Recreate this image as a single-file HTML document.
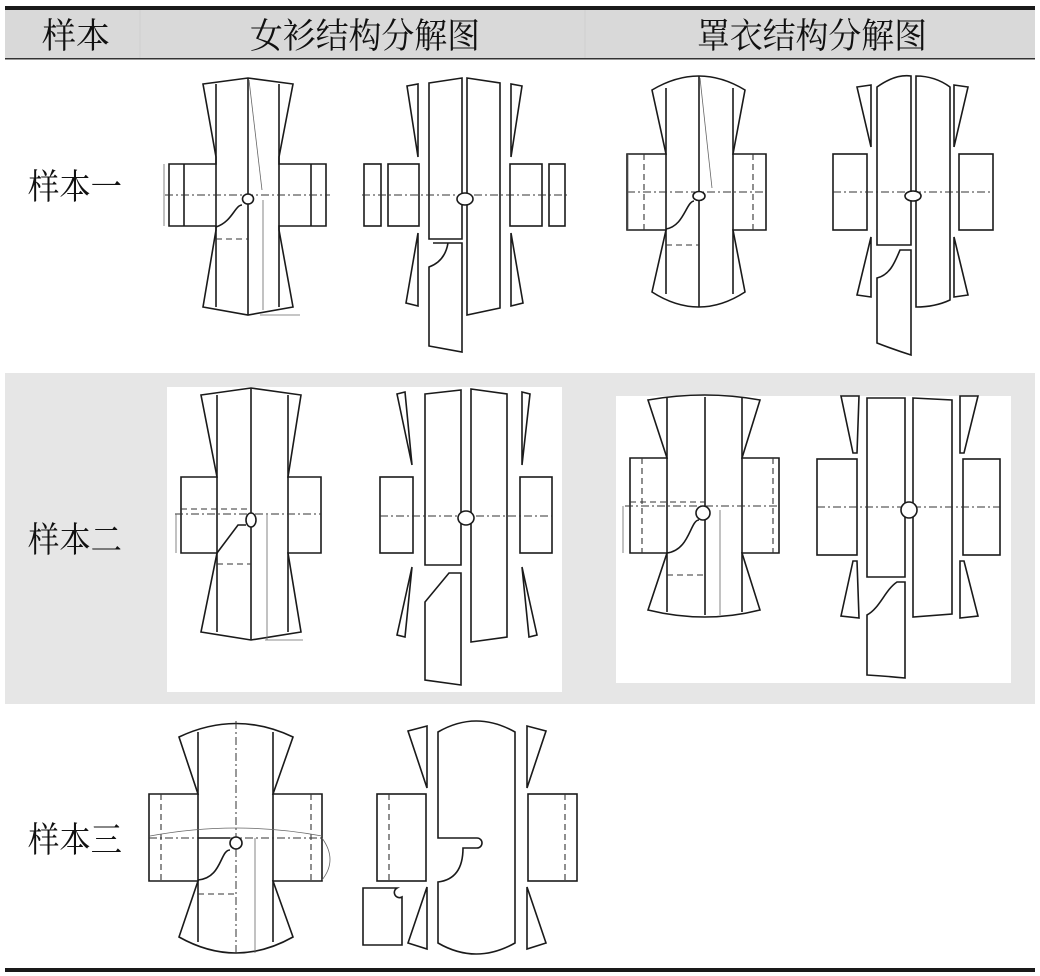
<!DOCTYPE html>
<html><head><meta charset="utf-8"><style>
html,body{margin:0;padding:0;background:#fff;}
svg{display:block;}
.t{font-family:"Liberation Serif","Noto Serif CJK SC",serif;font-size:35px;fill:#111;}
.s{fill:none;stroke:#1a1a1a;stroke-width:1.6;}
.f{fill:#fff;stroke:#1a1a1a;stroke-width:1.6;}
.d{fill:none;stroke:#333;stroke-width:1;stroke-dasharray:8,3,2,3;}
.ds{fill:none;stroke:#333;stroke-width:1.1;stroke-dasharray:6,4;}
.g{fill:none;stroke:#666;stroke-width:0.8;}
</style></head><body>
<svg width="1040" height="976" viewBox="0 0 1040 976" xmlns="http://www.w3.org/2000/svg">
<!-- header -->
<rect x="5" y="10" width="1030" height="48" fill="#d9d9d9"/>
<rect x="5" y="6" width="1030" height="4" fill="#1a1a1a"/>
<rect x="5" y="58" width="1030" height="1.5" fill="#333"/>
<line x1="140" y1="10" x2="140" y2="58" stroke="#cfcfcf"/>
<line x1="585" y1="10" x2="585" y2="58" stroke="#cfcfcf"/>
<text class="t" x="42" y="48" textLength="68" lengthAdjust="spacingAndGlyphs">样本</text>
<text class="t" x="250" y="48" textLength="230" lengthAdjust="spacingAndGlyphs">女衫结构分解图</text>
<text class="t" x="697" y="48" textLength="230" lengthAdjust="spacingAndGlyphs">罩衣结构分解图</text>
<!-- row2 gray -->
<rect x="5" y="373" width="1030" height="331" fill="#e6e6e6"/>
<rect x="167" y="387" width="395" height="305" fill="#fff"/>
<rect x="616" y="396" width="395" height="287" fill="#fff"/>
<!-- bottom line -->
<rect x="5" y="968" width="1030" height="4" fill="#1a1a1a"/>
<!-- labels -->
<text class="t" x="28" y="199" textLength="94" lengthAdjust="spacingAndGlyphs">样本一</text>
<text class="t" x="28" y="552" textLength="94" lengthAdjust="spacingAndGlyphs">样本二</text>
<text class="t" x="28" y="852" textLength="94" lengthAdjust="spacingAndGlyphs">样本三</text>

<!-- ROW1 LEFT women -->
<polygon class="f" points="203,84 248,78 293,84 279,157 279,164 326,164 326,226 279,226 279,230 293,307 248,315 203,307 216,230 216,226 169,226 169,164 216,164 216,157"/>
<line class="s" x1="216" y1="84" x2="216" y2="307"/><line class="s" x1="279" y1="84" x2="279" y2="307"/>
<line class="s" x1="248" y1="78" x2="248" y2="315"/>
<line class="s" x1="184" y1="164" x2="184" y2="226"/><line class="s" x1="311" y1="164" x2="311" y2="226"/>
<line class="d" x1="165" y1="195" x2="330" y2="195"/>
<path class="s" d="M216,227 C232,222 235,205 242,205"/>
<line class="ds" x1="216" y1="239" x2="248" y2="239"/>
<ellipse class="f" cx="248" cy="199" rx="5.5" ry="5"/>
<line class="g" x1="249" y1="80" x2="262" y2="190"/><line class="g" x1="263" y1="200" x2="263" y2="310"/>
<line class="g" x1="164" y1="164" x2="164" y2="226"/><line class="g" x1="260" y1="315" x2="300" y2="315"/>
<!-- ROW1 RIGHT women -->
<polygon class="f" points="407,86 418,84 418,157"/>
<polygon class="f" points="418,233 406,303 418,306"/>
<polygon class="f" points="522,86 511,84 511,157"/>
<polygon class="f" points="511,233 523,303 511,306"/>
<rect class="f" x="364" y="164" width="17" height="62"/><rect class="f" x="388" y="164" width="31" height="62"/>
<rect class="f" x="510" y="164" width="32" height="62"/><rect class="f" x="549" y="164" width="16" height="62"/>
<polygon class="f" points="429,83 462,78 462,239 429,239"/>
<path class="f" d="M433,243 L462,243 L462,352 L429,346 L429,267 C440,263 446,255 448,243 Z"/>
<polygon class="f" points="467,78 500,83 500,308 467,315"/>
<line class="d" x1="362" y1="195" x2="567" y2="195"/>
<ellipse class="f" cx="465" cy="199" rx="8" ry="6"/>

<!-- ROW1 LEFT overcoat -->
<path class="f" d="M652,90 Q699,62 745,90 L733,154 L766,154 L766,230 L733,230 L745,292 Q699,322 652,292 L666,230 L627,230 L627,154 L666,154 Z"/>
<line class="s" x1="666" y1="88" x2="666" y2="294"/><line class="s" x1="733" y1="88" x2="733" y2="294"/>
<line class="s" x1="699" y1="76" x2="699" y2="307"/>
<line class="ds" x1="644" y1="154" x2="644" y2="230"/><line class="ds" x1="753" y1="154" x2="753" y2="230"/>
<line class="d" x1="627" y1="192" x2="766" y2="192"/>
<path class="s" d="M666,229 C684,226 686,202 694,201"/>
<line class="ds" x1="666" y1="245" x2="699" y2="245"/>
<ellipse class="f" cx="699" cy="196" rx="6" ry="4.5"/>
<line class="g" x1="700" y1="78" x2="712" y2="188"/><line class="g" x1="628" y1="154" x2="628" y2="230"/>
<!-- ROW1 RIGHT overcoat -->
<polygon class="f" points="857,87 871,85 871,147"/>
<polygon class="f" points="871,237 857,295 871,297"/>
<polygon class="f" points="968,87 954,85 954,147"/>
<polygon class="f" points="954,237 968,295 954,297"/>
<rect class="f" x="833" y="154" width="34" height="76"/><rect class="f" x="959" y="154" width="34" height="76"/>
<path class="f" d="M877,87 Q895,74 911,76 L911,245 L877,245 Z"/>
<path class="f" d="M900,250 L911,250 L911,355 Q895,350 877,343 L877,278 C890,275 895,262 900,250 Z"/>
<path class="f" d="M916,76 Q935,76 950,87 L950,300 Q935,307 916,307 Z"/>
<line class="d" x1="833" y1="192" x2="993" y2="192"/>
<ellipse class="f" cx="913" cy="196" rx="8" ry="5"/>

<!-- ROW2 LEFT women -->
<polygon class="f" points="201,395 251,388 301,395 288,477 321,477 321,553 288,553 301,632 251,640 201,632 217,553 181,553 181,477 217,477"/>
<line class="s" x1="217" y1="395" x2="217" y2="632"/><line class="s" x1="288" y1="395" x2="288" y2="632"/>
<line class="s" x1="251" y1="388" x2="251" y2="640"/>
<line class="d" x1="175" y1="514" x2="321" y2="514"/>
<ellipse class="f" cx="251" cy="520" rx="5" ry="7"/>
<path class="s" d="M217,553 L238,525 L246,525"/>
<line class="ds" x1="181" y1="509" x2="251" y2="509"/>
<line class="ds" x1="217" y1="564" x2="251" y2="564"/>
<line class="g" x1="176" y1="514" x2="176" y2="553"/><line class="g" x1="267" y1="515" x2="267" y2="640"/><line class="g" x1="265" y1="640" x2="303" y2="640"/>
<!-- ROW2 RIGHT women -->
<polygon class="f" points="397,394 405,392 412,465"/>
<polygon class="f" points="412,567 397,635 405,637"/>
<polygon class="f" points="522,392 530,394 522,465"/>
<polygon class="f" points="522,567 537,635 529,637"/>
<rect class="f" x="380" y="477" width="33" height="76"/><rect class="f" x="520" y="477" width="32" height="76"/>
<polygon class="f" points="425,394 461,390 461,565 425,565"/>
<path class="f" d="M449,573 L461,573 L461,685 L425,680 L425,602 Z"/>
<polygon class="f" points="471,389 507,394 507,637 471,642"/>
<line class="d" x1="380" y1="516" x2="552" y2="516"/>
<ellipse class="f" cx="466" cy="518" rx="8" ry="7"/>

<!-- ROW2 LEFT overcoat -->
<path class="f" d="M648,400 Q705,390 760,400 L742,458 L779,458 L779,553 L742,553 L760,610 Q705,624 648,610 L667,553 L630,553 L630,458 L667,458 Z"/>
<line class="s" x1="667" y1="398" x2="667" y2="612"/><line class="s" x1="742" y1="398" x2="742" y2="612"/>
<line class="s" x1="705" y1="397" x2="705" y2="615"/>
<line class="ds" x1="642" y1="458" x2="642" y2="553"/><line class="ds" x1="773" y1="458" x2="773" y2="553"/>
<line class="d" x1="625" y1="506" x2="779" y2="506"/>
<ellipse class="f" cx="703" cy="513" rx="7" ry="7"/>
<path class="s" d="M667,553 C690,550 690,520 699,520"/>
<line class="ds" x1="667" y1="575" x2="705" y2="575"/>
<line class="ds" x1="630" y1="502" x2="705" y2="502"/>
<line class="g" x1="623" y1="506" x2="623" y2="553"/><line class="g" x1="720" y1="510" x2="720" y2="615"/>
<!-- ROW2 RIGHT overcoat -->
<polygon class="f" points="841,396 859,396 857,453 853,453"/>
<polygon class="f" points="853,561 857,561 859,618 841,616"/>
<polygon class="f" points="960,396 978,396 964,453 960,453"/>
<polygon class="f" points="960,561 964,561 978,616 960,618"/>
<rect class="f" x="817" y="459" width="40" height="96"/><rect class="f" x="963" y="459" width="37" height="96"/>
<polygon class="f" points="867,398 905,398 905,577 867,577"/>
<path class="f" d="M897,582 L905,582 L905,678 Q885,676 867,675 L867,615 C880,608 885,590 897,582 Z"/>
<polygon class="f" points="913,398 952,400 952,614 913,617"/>
<line class="d" x1="817" y1="507" x2="1000" y2="507"/>
<ellipse class="f" cx="909" cy="510" rx="8" ry="8"/>

<!-- ROW3 LEFT women -->
<path class="f" d="M179,737 Q236,710 293,737 L273,794 L322,794 L322,881 L273,881 L293,937 Q236,969 179,937 L198,881 L149,881 L149,794 L198,794 Z"/>
<line class="s" x1="198" y1="732" x2="198" y2="942"/><line class="s" x1="273" y1="732" x2="273" y2="942"/>
<line class="d" x1="236" y1="721" x2="236" y2="953"/>
<line class="ds" x1="161" y1="794" x2="161" y2="881"/><line class="ds" x1="311" y1="794" x2="311" y2="881"/>
<line class="d" x1="149" y1="838" x2="322" y2="838"/>
<line class="s" x1="198" y1="838" x2="230" y2="838"/>
<path class="s" d="M198,880 C222,878 220,850 230,850"/>
<ellipse class="f" cx="236" cy="843" rx="6" ry="6"/>
<line class="ds" x1="198" y1="894" x2="236" y2="894"/>
<path class="g" d="M150,836 Q236,820 322,836"/>
<line class="g" x1="255" y1="838" x2="255" y2="953"/>
<path class="g" d="M322,838 Q338,860 322,880"/>
<!-- ROW3 RIGHT women -->
<polygon class="f" points="408,731 427,726 427,788"/>
<polygon class="f" points="427,887 408,943 427,949"/>
<polygon class="f" points="546,731 527,726 527,788"/>
<polygon class="f" points="527,887 546,943 527,949"/>
<rect class="f" x="377" y="794" width="49" height="87"/>
<line class="ds" x1="389" y1="794" x2="389" y2="881"/>
<rect class="f" x="528" y="794" width="49" height="87"/>
<line class="ds" x1="565" y1="794" x2="565" y2="881"/>
<path class="f" d="M363,888 L397,888 A4,4 0 0 0 402,897 L402,945 L363,945 Z"/>
<path class="f" d="M438,732 Q476,710 515,732 L515,943 Q476,965 438,943 L438,882 C455,880 463,868 463,848 L477,848 A5,5 0 0 0 477,838 L438,838 Z"/>
</svg>
</body></html>
